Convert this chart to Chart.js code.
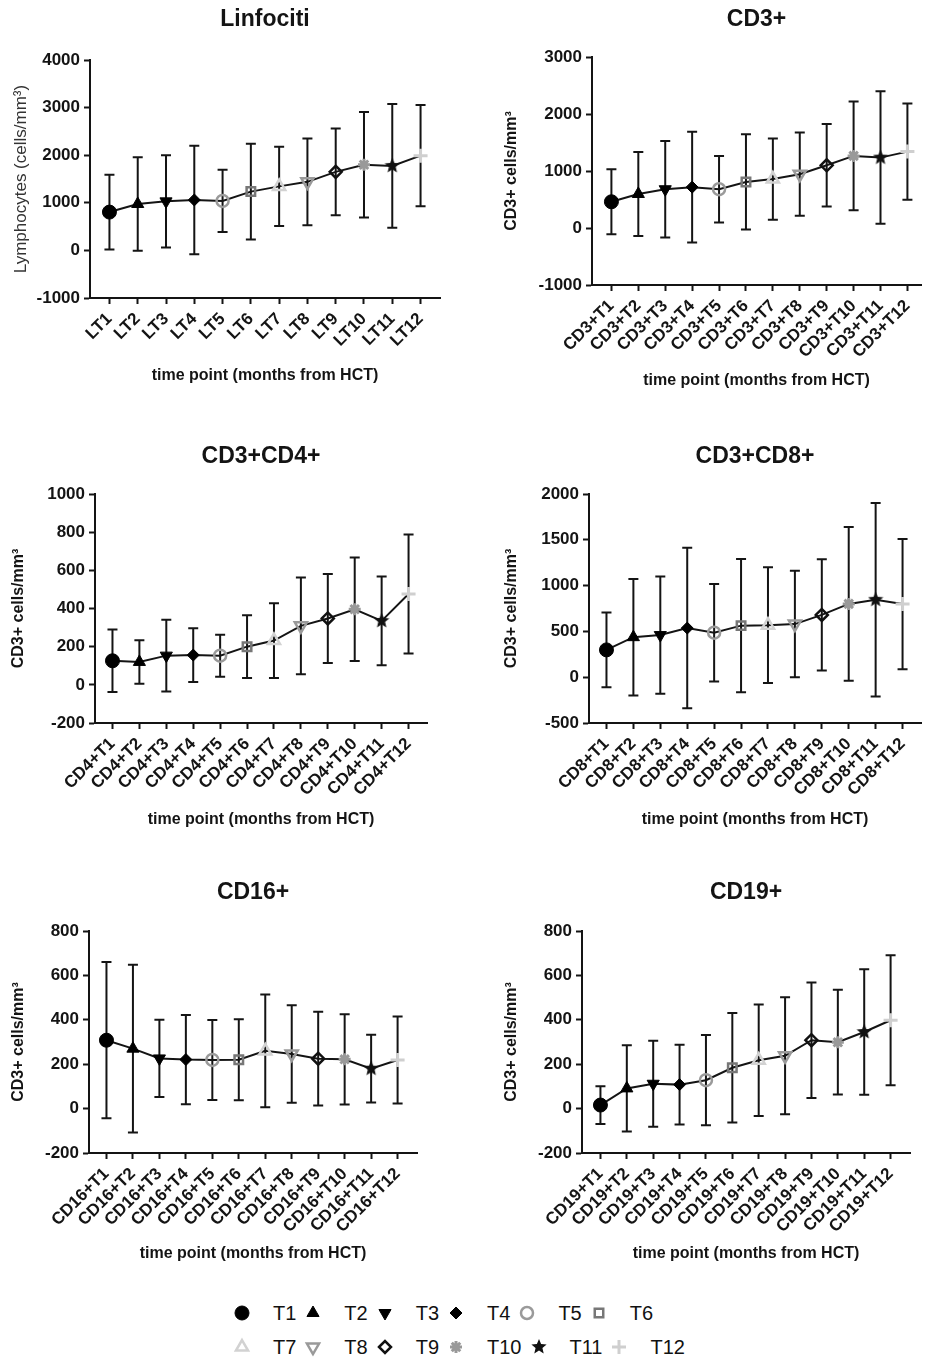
<!DOCTYPE html>
<html>
<head>
<meta charset="utf-8">
<title>Lymphocyte subsets after HCT</title>
<script src="https://cdn.jsdelivr.net/npm/chart.js@4.4.1/dist/chart.umd.min.js"></script>
<style>
  html, body { margin: 0; padding: 0; background: #fff; }
  body { position: relative; width: 931px; height: 1359px; overflow: hidden; font-family: "Liberation Sans", Arial, sans-serif; }
  .panel { position: absolute; }
  .legend-row { position: absolute; left: 232px; display: flex; align-items: center; height: 26px; font-size: 20px; color: #111; }
  .legend-row canvas { margin-right: 21px; }
  .legend-row span { margin-right: 7px; }
</style>
</head>
<body>
<div id="charts"></div>
<div class="legend-row" id="legend-1" style="top:1300px"></div>
<div class="legend-row" id="legend-2" style="top:1334px"></div>
<script>
// Mean ± SD per time point
const timePoints = ['T1', 'T2', 'T3', 'T4', 'T5', 'T6', 'T7', 'T8', 'T9', 'T10', 'T11', 'T12'];

const lymphLabels = ['LT1', 'LT2', 'LT3', 'LT4', 'LT5', 'LT6', 'LT7', 'LT8', 'LT9', 'LT10', 'LT11', 'LT12'];
const lymphMean = [805, 975, 1030, 1060, 1040, 1235, 1345, 1440, 1650, 1800, 1775, 1990];
const lymphSd = [785, 980, 970, 1140, 655, 1005, 830, 910, 910, 1110, 1300, 1065];

const cd3Labels = ['CD3+T1', 'CD3+T2', 'CD3+T3', 'CD3+T4', 'CD3+T5', 'CD3+T6', 'CD3+T7', 'CD3+T8', 'CD3+T9', 'CD3+T10', 'CD3+T11', 'CD3+T12'];
const cd3Mean = [460, 597, 680, 717, 680, 808, 858, 944, 1100, 1265, 1235, 1340];
const cd3Sd = [570, 738, 846, 972, 584, 835, 712, 730, 724, 954, 1162, 846];

const cd4Labels = ['CD4+T1', 'CD4+T2', 'CD4+T3', 'CD4+T4', 'CD4+T5', 'CD4+T6', 'CD4+T7', 'CD4+T8', 'CD4+T9', 'CD4+T10', 'CD4+T11', 'CD4+T12'];
const cd4Mean = [126, 120, 153, 156, 153, 200, 232, 309, 348, 396, 335, 476];
const cd4Sd = [164, 114, 188, 141, 110, 164, 196, 253, 233, 271, 233, 312];

const cd8Labels = ['CD8+T1', 'CD8+T2', 'CD8+T3', 'CD8+T4', 'CD8+T5', 'CD8+T6', 'CD8+T7', 'CD8+T8', 'CD8+T9', 'CD8+T10', 'CD8+T11', 'CD8+T12'];
const cd8Mean = [298, 437, 460, 536, 486, 563, 568, 580, 680, 800, 845, 798];
const cd8Sd = [407, 636, 640, 876, 532, 727, 632, 581, 608, 839, 1057, 710];

const cd16Labels = ['CD16+T1', 'CD16+T2', 'CD16+T3', 'CD16+T4', 'CD16+T5', 'CD16+T6', 'CD16+T7', 'CD16+T8', 'CD16+T9', 'CD16+T10', 'CD16+T11', 'CD16+T12'];
const cd16Mean = [308, 270, 226, 221, 219, 220, 260, 246, 225, 222, 180, 219];
const cd16Sd = [352, 378, 174, 201, 180, 182, 254, 220, 211, 203, 153, 196];

const cd19Labels = ['CD19+T1', 'CD19+T2', 'CD19+T3', 'CD19+T4', 'CD19+T5', 'CD19+T6', 'CD19+T7', 'CD19+T8', 'CD19+T9', 'CD19+T10', 'CD19+T11', 'CD19+T12'];
const cd19Mean = [16, 91, 112, 108, 128, 184, 218, 238, 308, 299, 345, 398];
const cd19Sd = [85, 194, 194, 180, 203, 247, 251, 264, 260, 236, 283, 293];

const INK = '#141414';
const FONT = '"Liberation Sans", Arial, sans-serif';
const TITLE_SIZE = 23;
const XTITLE_SIZE = 16;

function starImage(color, size) {
  const c = document.createElement('canvas');
  c.width = c.height = size;
  const g = c.getContext('2d');
  const R = size / 2, r = R * 0.45;
  g.beginPath();
  for (let i = 0; i < 10; i++) {
    const a = -Math.PI / 2 + i * Math.PI / 5;
    const d = i % 2 ? r : R;
    g.lineTo(R + d * Math.cos(a), R + d * Math.sin(a));
  }
  g.closePath();
  g.fillStyle = color;
  g.fill();
  return c;
}

const CLEAR = 'rgba(255,255,255,0)';
// one marker per time point (T1..T12), Prism style
const markers = [
  { style: 'circle', rot: 0, fill: '#000', stroke: '#000', r: 7, w: 1 },
  { style: 'triangle', rot: 0, fill: '#000', stroke: '#000', r: 7, w: 1 },
  { style: 'triangle', rot: 180, fill: '#000', stroke: '#000', r: 7, w: 1 },
  { style: 'rectRot', rot: 0, fill: '#000', stroke: '#000', r: 6, w: 1 },
  { style: 'circle', rot: 0, fill: CLEAR, stroke: '#9a9a9a', r: 6, w: 2.5 },
  { style: 'rect', rot: 0, fill: CLEAR, stroke: '#777', r: 6, w: 2.5 },
  { style: 'triangle', rot: 0, fill: CLEAR, stroke: '#d2d2d2', r: 7, w: 2.5 },
  { style: 'triangle', rot: 180, fill: CLEAR, stroke: '#9a9a9a', r: 7, w: 2.5 },
  { style: 'rectRot', rot: 0, fill: CLEAR, stroke: '#111', r: 6, w: 2.5 },
  { style: 'star', rot: 0, fill: '#999', stroke: '#999', r: 6, w: 3 },
  { style: starImage('#111', 16), rot: 0, fill: '#111', stroke: '#111', r: 8, w: 1 },
  { style: 'cross', rot: 0, fill: '#cfcfcf', stroke: '#cfcfcf', r: 7, w: 3 },
];

const panels = [
  { title: 'Linfociti', yTitle: 'Lymphocytes (cells/mm³)', yBold: false, labels: lymphLabels, mean: lymphMean, sd: lymphSd,
    yMin: -1000, yMax: 4000, yStep: 1000,
    box: { l: 90, r: 450, t: 60, b: 298, first: 110, last: 430, titleY: 20, xTitleY: 375, yTitleX: 21 } },
  { title: 'CD3+', yTitle: 'CD3+ cells/mm³', yBold: true, labels: cd3Labels, mean: cd3Mean, sd: cd3Sd,
    yMin: -1000, yMax: 3000, yStep: 1000,
    box: { l: 592, r: 931, t: 57, b: 285, first: 612, last: 917, titleY: 20, xTitleY: 380, yTitleX: 512 } },
  { title: 'CD3+CD4+', yTitle: 'CD3+ cells/mm³', yBold: true, labels: cd4Labels, mean: cd4Mean, sd: cd4Sd,
    yMin: -200, yMax: 1000, yStep: 200,
    box: { l: 95, r: 437, t: 494, b: 723, first: 113, last: 418, titleY: 457, xTitleY: 819, yTitleX: 19 } },
  { title: 'CD3+CD8+', yTitle: 'CD3+ cells/mm³', yBold: true, labels: cd8Labels, mean: cd8Mean, sd: cd8Sd,
    yMin: -500, yMax: 2000, yStep: 500,
    box: { l: 589, r: 931, t: 494, b: 723, first: 607, last: 912, titleY: 457, xTitleY: 819, yTitleX: 512 } },
  { title: 'CD16+', yTitle: 'CD3+ cells/mm³', yBold: true, labels: cd16Labels, mean: cd16Mean, sd: cd16Sd,
    yMin: -200, yMax: 800, yStep: 200,
    box: { l: 89, r: 427, t: 931, b: 1153, first: 107, last: 407, titleY: 893, xTitleY: 1253, yTitleX: 19 } },
  { title: 'CD19+', yTitle: 'CD3+ cells/mm³', yBold: true, labels: cd19Labels, mean: cd19Mean, sd: cd19Sd,
    yMin: -200, yMax: 800, yStep: 200,
    box: { l: 582, r: 920, t: 931, b: 1153, first: 601, last: 900, titleY: 893, xTitleY: 1253, yTitleX: 512 } },
];

// mean ± SD whiskers drawn under the line
const errorBars = {
  id: 'errorBars',
  beforeDatasetsDraw(chart) {
    const { ctx, scales: { x, y } } = chart;
    const ds = chart.data.datasets[0];
    ctx.save();
    ctx.strokeStyle = INK;
    ctx.lineWidth = 2;
    ds.data.forEach((pt, i) => {
      const px = x.getPixelForValue(pt.x);
      const hi = y.getPixelForValue(pt.y + ds.errors[i]);
      const lo = y.getPixelForValue(pt.y - ds.errors[i]);
      ctx.beginPath();
      ctx.moveTo(px, hi); ctx.lineTo(px, lo);
      ctx.moveTo(px - 5, hi); ctx.lineTo(px + 5, hi);
      ctx.moveTo(px - 5, lo); ctx.lineTo(px + 5, lo);
      ctx.stroke();
    });
    ctx.restore();
  }
};

function buildPanel(p) {
  const g = p.box;
  const ySize = p.yBold ? 16 : 17;
  const left = Math.round(g.yTitleX - ySize * 0.6);
  const top = Math.round(g.titleY - TITLE_SIZE * 0.6);
  const width = g.r - left;
  const height = Math.round(g.xTitleY + XTITLE_SIZE * 0.6) - top;
  const yw = g.l - left;
  const xh = top + height - g.b;
  const titlePad = g.t - top - TITLE_SIZE * 1.2;
  const unit = (g.last - g.first) / 11;
  const xMin = 1 - (g.first - g.l) / unit;
  const xMax = 12 + (g.r - g.last) / unit;

  const wrap = document.createElement('div');
  wrap.className = 'panel';
  wrap.style.cssText = `left:${left}px;top:${top}px;width:${width}px;height:${height}px`;
  const canvas = document.createElement('canvas');
  canvas.width = width;
  canvas.height = height;
  canvas.style.width = width + 'px';
  canvas.style.height = height + 'px';
  wrap.appendChild(canvas);
  document.getElementById('charts').appendChild(wrap);

  new Chart(canvas, {
    type: 'line',
    data: {
      datasets: [{
        data: p.mean.map((v, i) => ({ x: i + 1, y: v })),
        errors: p.sd,
        borderColor: INK,
        borderWidth: 2,
        tension: 0,
        fill: false,
        pointStyle: markers.map(m => m.style),
        pointRotation: markers.map(m => m.rot),
        pointBackgroundColor: markers.map(m => m.fill),
        pointBorderColor: markers.map(m => m.stroke),
        pointBorderWidth: markers.map(m => m.w),
        pointRadius: markers.map(m => m.r),
        clip: false,
      }],
    },
    options: {
      responsive: false,
      animation: false,
      events: [],
      layout: { padding: 0 },
      plugins: {
        legend: { display: false },
        tooltip: { enabled: false },
        title: {
          display: true, text: p.title, color: INK, fullSize: false,
          font: { family: FONT, size: TITLE_SIZE, weight: 'bold' },
          padding: { top: 0, bottom: titlePad },
        },
      },
      scales: {
        x: {
          type: 'linear', min: xMin, max: xMax,
          afterBuildTicks: axis => { axis.ticks = p.labels.map((_, i) => ({ value: i + 1 })); },
          afterFit: axis => { axis.height = xh; },
          ticks: {
            autoSkip: false, minRotation: 45, maxRotation: 45, padding: 5, color: INK,
            font: { family: FONT, size: 17, weight: 'bold' },
            callback: v => p.labels[v - 1],
          },
          grid: { drawOnChartArea: false, drawTicks: true, tickLength: 6, tickWidth: 2, tickColor: INK },
          border: { display: true, color: INK, width: 2 },
          title: {
            display: true, text: 'time point (months from HCT)', color: INK, padding: 0,
            font: { family: FONT, size: XTITLE_SIZE, weight: 'bold' },
          },
        },
        y: {
          min: p.yMin, max: p.yMax,
          afterFit: axis => { axis.width = yw; },
          ticks: {
            stepSize: p.yStep, padding: 4, color: INK,
            font: { family: FONT, size: 17, weight: 'bold' },
            callback: v => String(v),
          },
          grid: { drawOnChartArea: false, drawTicks: true, tickLength: 6, tickWidth: 2, tickColor: INK },
          border: { display: true, color: INK, width: 2 },
          title: {
            display: true, text: p.yTitle, color: p.yBold ? INK : '#333', padding: 0,
            font: { family: FONT, size: ySize, weight: p.yBold ? 'bold' : 'normal' },
          },
        },
      },
    },
    plugins: [errorBars],
  });
}

panels.forEach(buildPanel);

// legend: marker then time point label, two rows of six
function legendItem(row, i) {
  const m = markers[i];
  const c = document.createElement('canvas');
  c.width = 20; c.height = 20;
  const ctx = c.getContext('2d');
  ctx.fillStyle = m.fill;
  ctx.strokeStyle = m.stroke;
  ctx.lineWidth = m.w;
  Chart.helpers.drawPoint(ctx, { pointStyle: m.style, rotation: m.rot, radius: m.r, borderWidth: m.w }, 10, 10);
  const s = document.createElement('span');
  s.textContent = timePoints[i];
  row.appendChild(c);
  row.appendChild(s);
}
timePoints.forEach((t, i) => legendItem(document.getElementById(i < 6 ? 'legend-1' : 'legend-2'), i));
</script>
</body>
</html>
